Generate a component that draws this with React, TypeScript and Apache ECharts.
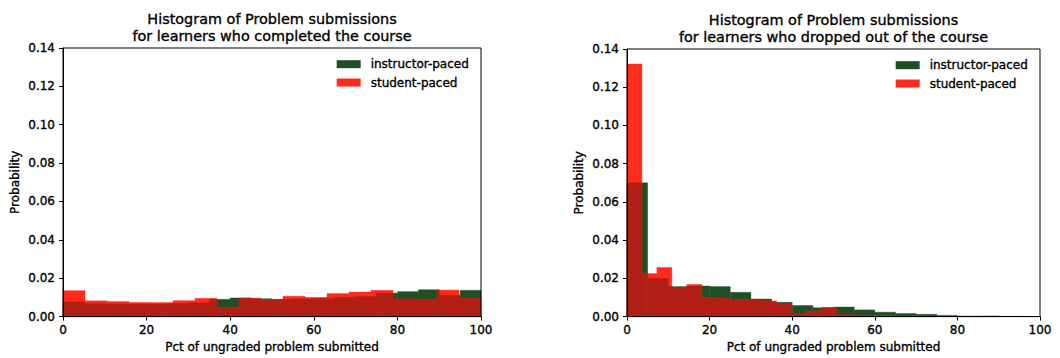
import React, { useEffect, useRef } from "react";
import * as echarts from "echarts";

// ---- data ----
const xTicks = [0, 20, 40, 60, 80, 100];
const yTicks = [0, 0.02, 0.04, 0.06, 0.08, 0.1, 0.12, 0.14];
const seriesNames = ["instructor-paced", "student-paced"];

const titleCompleted = "Histogram of Problem submissions\nfor learners who completed the course";
const titleDropped = "Histogram of Problem submissions\nfor learners who dropped out of the course";
const xLabel = "Pct of ungraded problem submitted";
const yLabel = "Probability";

// Completed course
const completedInstructorEdges = [0, 5, 10, 15, 20, 25, 30, 35, 40, 45, 50, 55, 60, 65, 70, 75, 80, 85, 90, 95, 100];
const completedInstructorProb = [0.0077, 0.0068, 0.0066, 0.0065, 0.0065, 0.0068, 0.0072, 0.009, 0.0097, 0.0093, 0.009, 0.0092, 0.0095, 0.01, 0.0105, 0.0122, 0.013, 0.014, 0.011, 0.0137];
const completedStudentEdges = [0, 5.26, 10.53, 15.79, 21.05, 26.32, 31.58, 36.84, 42.11, 47.37, 52.63, 57.89, 63.16, 68.42, 73.68, 78.95, 84.21, 89.47, 94.74, 100];
const completedStudentProb = [0.0135, 0.0082, 0.0079, 0.0074, 0.0073, 0.0083, 0.0095, 0.0048, 0.0096, 0.0088, 0.0106, 0.01, 0.012, 0.0128, 0.0137, 0.0092, 0.009, 0.0138, 0.0095];

// Dropped out
const droppedInstructorEdges = [0, 5, 10, 15, 20, 25, 30, 35, 40, 45, 50, 55, 60, 65, 70, 75, 80, 85, 90, 95, 100];
const droppedInstructorProb = [0.07, 0.02, 0.0157, 0.016, 0.0157, 0.0127, 0.0092, 0.0075, 0.0058, 0.0046, 0.005, 0.0035, 0.0023, 0.0016, 0.0012, 0.0006, 0.0002, 0.0003, 0.0001, 0.0];
const droppedStudentEdges = [0, 3.62, 7.24, 10.86, 14.48, 18.1, 21.72, 25.34, 28.96, 32.58, 36.2, 39.82, 43.44, 47.06, 50.68, 54.3, 57.92, 61.54, 65.16, 68.78, 72.4, 76.02, 79.64, 83.26, 86.88, 90.5];
const droppedStudentProb = [0.1322, 0.0225, 0.0257, 0.0152, 0.0168, 0.01, 0.0096, 0.0088, 0.0086, 0.0082, 0.0066, 0.0014, 0.0028, 0.0047, 0.0009, 0.0008, 0.0006, 0.0005, 0.0003, 0.0003, 0.0002, 0.0001, 0.0001, 0.0, 0.0001];

// ---- styles ----
const GREEN = "#1f4f24";
const RED = "#ff2c1c";
const OVERLAP = "#b21f16";
const FONT = "DejaVu Sans";
const W = 1060;
const H = 358;
const TXT = { color: "#000", fontFamily: FONT, fontSize: 12, textBorderColor: "#000", textBorderWidth: 0.35 };

const grids = [
  { left: 63, top: 48, width: 418, height: 270 },
  { left: 627, top: 49, width: 413, height: 270 },
];

function toBins(edges: number[], probs: number[]) {
  return probs.map((p, i) => [edges[i], edges[i + 1], p]);
}

function overlapBins(eA: number[], pA: number[], eB: number[], pB: number[]) {
  const out: number[][] = [];
  for (let i = 0; i < pA.length; i++) {
    for (let j = 0; j < pB.length; j++) {
      const lo = Math.max(eA[i], eB[j]);
      const hi = Math.min(eA[i + 1], eB[j + 1]);
      if (hi > lo) out.push([lo, hi, Math.min(pA[i], pB[j])]);
    }
  }
  return out;
}

const renderBin = (color: string) => (params: any, api: any) => {
  const x0 = api.value(0);
  const x1 = api.value(1);
  const y = api.value(2);
  const p0 = api.coord([x0, y]);
  const p1 = api.coord([x1, 0]);
  const rect = { x: p0[0], y: p0[1], width: p1[0] - p0[0], height: p1[1] - p0[1] };
  const cs = params.coordSys;
  const shape = echarts.graphic.clipRectByRect(rect, { x: cs.x, y: cs.y, width: cs.width, height: cs.height });
  if (!shape) return null;
  return { type: "rect", shape, style: { fill: color, stroke: color, lineWidth: 0.4 } };
};

function panelSeries(idx: number, gE: number[], gP: number[], rE: number[], rP: number[]) {
  const common = { type: "custom", xAxisIndex: idx, yAxisIndex: idx, encode: { x: [0, 1], y: 2 } };
  return [
    { ...common, name: seriesNames[0], itemStyle: { color: GREEN }, renderItem: renderBin(GREEN), data: toBins(gE, gP), z: 2 },
    { ...common, name: seriesNames[1], itemStyle: { color: RED }, renderItem: renderBin(RED), data: toBins(rE, rP), z: 3 },
    { ...common, name: "overlap" + idx, itemStyle: { color: OVERLAP }, renderItem: renderBin(OVERLAP), data: overlapBins(rE, rP, gE, gP), z: 4 },
  ];
}

function xAxisFor(idx: number) {
  return {
    type: "value",
    gridIndex: idx,
    min: xTicks[0],
    max: xTicks[xTicks.length - 1],
    interval: 20,
    z: 10,
    splitLine: { show: false },
    axisLine: { show: true, lineStyle: { color: "#000", width: 1 } },
    axisTick: { show: true, length: 4, lineStyle: { color: "#000" } },
    axisLabel: { ...TXT, margin: 7 },
    name: xLabel,
    nameLocation: "middle",
    nameGap: 24,
    nameTextStyle: { ...TXT },
  };
}

function yAxisFor(idx: number) {
  return {
    type: "value",
    gridIndex: idx,
    min: yTicks[0],
    max: yTicks[yTicks.length - 1],
    interval: 0.02,
    z: 10,
    splitLine: { show: false },
    axisLine: { show: true, lineStyle: { color: "#000", width: 1 } },
    axisTick: { show: true, length: 4, lineStyle: { color: "#000" } },
    axisLabel: { ...TXT, margin: 8, formatter: (v: number) => v.toFixed(2) },
    name: yLabel,
    nameLocation: "middle",
    nameRotate: 90,
    nameGap: 42,
    nameTextStyle: { ...TXT },
  };
}

function legendFor(idx: number) {
  const g = grids[idx];
  return {
    data: seriesNames,
    orient: "vertical",
    right: W - (g.left + g.width) + 12 - 5,
    top: g.top + 5,
    itemWidth: 24,
    itemHeight: 8,
    itemGap: 6,
    icon: "rect",
    selectedMode: false,
    textStyle: { ...TXT, padding: [0, 0, 0, 5] },
  };
}

function titleFor(idx: number, text: string) {
  const g = grids[idx];
  return {
    type: "text",
    z: 100,
    style: {
      text,
      x: g.left + g.width / 2,
      y: g.top - 38,
      align: "center",
      textAlign: "center",
      verticalAlign: "top",
      textVerticalAlign: "top",
      fill: "#000",
      stroke: "#000",
      lineWidth: 0.35,
      font: `14.4px "${FONT}"`,
      fontFamily: FONT,
      fontSize: 14.4,
      lineHeight: 17,
    },
  };
}

export default function App() {
  const ref = useRef<HTMLDivElement>(null);
  useEffect(() => {
    document.body.style.margin = "0";
    if (!ref.current) return;
    const chart = echarts.init(ref.current, undefined, { renderer: "svg" });
    chart.setOption({
      animation: false,
      backgroundColor: "#fff",
      grid: grids.map((g) => ({ ...g, show: true, borderColor: "#000", borderWidth: 1, backgroundColor: "transparent", z: 9 })),
      xAxis: [xAxisFor(0), xAxisFor(1)],
      yAxis: [yAxisFor(0), yAxisFor(1)],
      legend: [legendFor(0), legendFor(1)],
      graphic: [titleFor(0, titleCompleted), titleFor(1, titleDropped)],
      series: [
        ...panelSeries(0, completedInstructorEdges, completedInstructorProb, completedStudentEdges, completedStudentProb),
        ...panelSeries(1, droppedInstructorEdges, droppedInstructorProb, droppedStudentEdges, droppedStudentProb),
      ],
    });
    return () => chart.dispose();
  }, []);
  return <div ref={ref} style={{ width: W, height: H }} />;
}
